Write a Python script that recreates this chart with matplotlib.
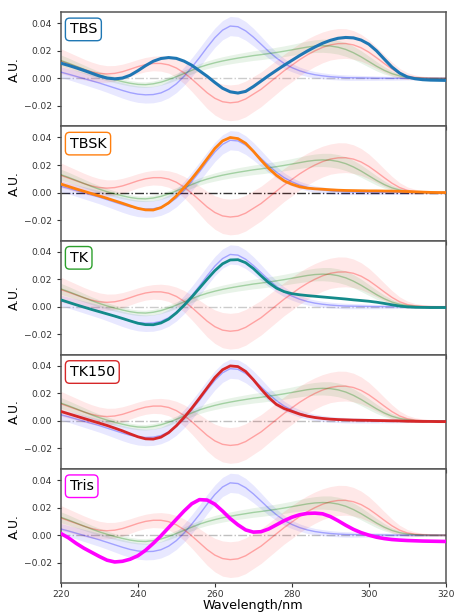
import numpy as np
import matplotlib
matplotlib.use("Agg")
import matplotlib.pyplot as plt

wavelength = list(range(220, 321, 2))

# background group means and band half-widths
bg_blue = [0.0045, 0.0030, 0.0014, -0.0002, -0.0018, -0.0034, -0.0052, -0.0070, -0.0088, -0.0104,
           -0.0115, -0.0120, -0.0118, -0.0106, -0.0080, -0.0040, 0.0015, 0.0080, 0.0150, 0.0225,
           0.0295, 0.0350, 0.0380, 0.0375, 0.0345, 0.0300, 0.0248, 0.0195, 0.0148, 0.0108,
           0.0078, 0.0055, 0.0038, 0.0026, 0.0018, 0.0012, 0.0008, 0.0005, 0.0004, 0.0003,
           0.0002, 0.0001, 0.0001, 0.0, 0.0, 0.0, 0.0, 0.0, 0.0, 0.0, 0.0]
bg_blue_err = [0.004, 0.004, 0.0042, 0.0044, 0.0046, 0.0048, 0.005, 0.0053, 0.0056, 0.0058,
               0.006, 0.006, 0.006, 0.006, 0.0062, 0.0064, 0.0066, 0.0068, 0.007, 0.007,
               0.007, 0.007, 0.007, 0.007, 0.0068, 0.0064, 0.0058, 0.005, 0.0042, 0.0036,
               0.003, 0.0027, 0.0025, 0.0023, 0.0022, 0.0021, 0.002, 0.002, 0.0019, 0.0018,
               0.0017, 0.0016, 0.0015, 0.0014, 0.0013, 0.0012, 0.0011, 0.001, 0.001, 0.001, 0.001]

bg_red = [0.0125, 0.0105, 0.0085, 0.0065, 0.0048, 0.0036, 0.0032, 0.0036, 0.0048, 0.0066,
          0.0085, 0.0100, 0.0108, 0.0108, 0.0098, 0.0075, 0.0040, -0.0005, -0.0055, -0.0105,
          -0.0145, -0.0170, -0.0178, -0.0172, -0.0150, -0.0115, -0.0080, -0.0035, 0.0010, 0.0055,
          0.0095, 0.0135, 0.0170, 0.0200, 0.0225, 0.0243, 0.0252, 0.0253, 0.0243, 0.0222,
          0.0190, 0.0150, 0.0108, 0.0068, 0.0036, 0.0016, 0.0007, 0.0003, 0.0001, 0.0, 0.0]
bg_red_err = [0.009, 0.0085, 0.008, 0.0075, 0.007, 0.0065, 0.006, 0.0057, 0.0055, 0.0053,
              0.0052, 0.0052, 0.0053, 0.0056, 0.006, 0.0068, 0.0078, 0.009, 0.0102, 0.0114,
              0.0122, 0.0128, 0.013, 0.013, 0.013, 0.0128, 0.0126, 0.0124, 0.0122, 0.012,
              0.012, 0.0118, 0.0116, 0.0114, 0.0112, 0.011, 0.011, 0.0108, 0.0104, 0.0098,
              0.009, 0.0078, 0.0064, 0.005, 0.0036, 0.0025, 0.0017, 0.0012, 0.001, 0.001, 0.001]

bg_green = [0.0130, 0.0110, 0.0088, 0.0066, 0.0044, 0.0024, 0.0006, -0.0010, -0.0024, -0.0036,
            -0.0044, -0.0046, -0.0040, -0.0028, -0.0010, 0.0012, 0.0035, 0.0058, 0.0080, 0.0098,
            0.0113, 0.0126, 0.0137, 0.0147, 0.0156, 0.0165, 0.0172, 0.0180, 0.0188, 0.0197,
            0.0207, 0.0217, 0.0227, 0.0234, 0.0237, 0.0235, 0.0226, 0.0210, 0.0186, 0.0156,
            0.0122, 0.0088, 0.0058, 0.0034, 0.0018, 0.0008, 0.0003, 0.0001, 0.0, 0.0, 0.0]
bg_green_err = [0.004, 0.0037, 0.0034, 0.0031, 0.0028, 0.0026, 0.0024, 0.0022, 0.0021, 0.002,
                0.002, 0.002, 0.0021, 0.0022, 0.0023, 0.0024, 0.0025, 0.0026, 0.0027, 0.0028,
                0.003, 0.0031, 0.0032, 0.0033, 0.0034, 0.0035, 0.0036, 0.0037, 0.0038, 0.0039,
                0.004, 0.0042, 0.0044, 0.0046, 0.0048, 0.005, 0.005, 0.005, 0.0048, 0.0045,
                0.004, 0.0034, 0.0027, 0.002, 0.0014, 0.001, 0.0008, 0.0006, 0.0005, 0.0005, 0.0005]

# highlighted samples
tbs = [0.0110, 0.0094, 0.0076, 0.0057, 0.0037, 0.0017, 0.0002, -0.0004, 0.0002, 0.0022,
       0.0055, 0.0092, 0.0124, 0.0144, 0.0151, 0.0145, 0.0125, 0.0095, 0.0055, 0.0015,
       -0.0030, -0.0072, -0.0098, -0.0107, -0.0095, -0.0060, -0.0020, 0.0020, 0.0058, 0.0095,
       0.0130, 0.0165, 0.0198, 0.0228, 0.0255, 0.0276, 0.0291, 0.0297, 0.0294, 0.0278,
       0.0248, 0.0200, 0.0140, 0.0082, 0.0038, 0.0010, -0.0003, -0.0010, -0.0013, -0.0014, -0.0015]
tbsk = [0.0062, 0.0044, 0.0026, 0.0009, -0.0008, -0.0025, -0.0042, -0.0060, -0.0078, -0.0097,
        -0.0115, -0.0126, -0.0127, -0.0110, -0.0075, -0.0025, 0.0035, 0.0100, 0.0170, 0.0245,
        0.0320, 0.0375, 0.0400, 0.0392, 0.0358, 0.0300, 0.0235, 0.0175, 0.0125, 0.0085,
        0.0060, 0.0042, 0.0032, 0.0027, 0.0024, 0.0020, 0.0017, 0.0015, 0.0014, 0.0013,
        0.0012, 0.0012, 0.0011, 0.0010, 0.0009, 0.0007, 0.0005, 0.0003, 0.0001, 0.0, 0.0]
tk = [0.0050, 0.0032, 0.0014, -0.0003, -0.0020, -0.0036, -0.0052, -0.0068, -0.0085, -0.0103,
      -0.0120, -0.0130, -0.0131, -0.0118, -0.0090, -0.0045, 0.0010, 0.0070, 0.0135, 0.0200,
      0.0262, 0.0312, 0.0340, 0.0342, 0.0320, 0.0278, 0.0225, 0.0175, 0.0135, 0.0110,
      0.0095, 0.0087, 0.0081, 0.0076, 0.0071, 0.0066, 0.0061, 0.0056, 0.0050, 0.0045,
      0.0040, 0.0033, 0.0024, 0.0014, 0.0005, -0.0001, -0.0004, -0.0005, -0.0006, -0.0006, -0.0006]
tk150 = [0.0069, 0.0052, 0.0035, 0.0018, 0.0001, -0.0016, -0.0033, -0.0052, -0.0072, -0.0094,
         -0.0115, -0.0130, -0.0132, -0.0118, -0.0085, -0.0035, 0.0025, 0.0092, 0.0165, 0.0240,
         0.0315, 0.0372, 0.0400, 0.0395, 0.0360, 0.0300, 0.0232, 0.0170, 0.0120, 0.0090,
         0.0070, 0.0050, 0.0035, 0.0025, 0.0018, 0.0013, 0.0010, 0.0008, 0.0006, 0.0005,
         0.0004, 0.0003, 0.0002, 0.0001, 0.0, -0.0002, -0.0003, -0.0004, -0.0004, -0.0005, -0.0005]
tris = [0.0012, -0.0020, -0.0060, -0.0095, -0.0125, -0.0155, -0.0182, -0.0195, -0.0190, -0.0175,
        -0.0150, -0.0110, -0.0060, -0.0005, 0.0055, 0.0115, 0.0175, 0.0228, 0.0258, 0.0255,
        0.0225, 0.0175, 0.0120, 0.0075, 0.0038, 0.0022, 0.0025, 0.0045, 0.0075, 0.0105,
        0.0130, 0.0148, 0.0158, 0.0160, 0.0155, 0.0135, 0.0105, 0.0072, 0.0042, 0.0018,
        0.0000, -0.0015, -0.0025, -0.0032, -0.0036, -0.0039, -0.0041, -0.0043, -0.0044, -0.0045, -0.0046]

names = ["TBS", "TBSK", "TK", "TK150", "Tris"]
series = [tbs, tbsk, tk, tk150, tris]
line_colors = ["#1f77b4", "#ff7f0e", "#138a8a", "#d62728", "#ff00ff"]
box_colors = ["#1f77b4", "#ff7f0e", "#2ca02c", "#d62728", "#ff00ff"]
line_widths = [2.2, 2.0, 2.0, 2.0, 2.6]
zero_alpha = [0.2, 0.8, 0.2, 0.25, 0.25]

x = np.array(wavelength)
fig, axes = plt.subplots(5, 1, figsize=(4.54, 6.14), dpi=100, sharex=True)
fig.subplots_adjust(left=0.134, right=0.982, top=0.980, bottom=0.050, hspace=0)

bgs = [(bg_blue, bg_blue_err, "b"), (bg_red, bg_red_err, "r"), (bg_green, bg_green_err, "g")]

for i, ax in enumerate(axes):
    ax.axhline(0, color="k", ls="-.", lw=1.0, alpha=zero_alpha[i], zorder=1)
    for m, e, c in bgs:
        m = np.array(m); e = np.array(e)
        ax.fill_between(x, m - e, m + e, color=c, alpha=0.09, lw=0, zorder=2)
        ax.plot(x, m, color=c, alpha=0.3, lw=1.0, zorder=3)
    ax.plot(x, series[i], color=line_colors[i], lw=line_widths[i], zorder=5)
    ax.text(0.023, 0.85, names[i], transform=ax.transAxes, fontsize=10.3,
            ha="left", va="center", zorder=6,
            bbox=dict(boxstyle="round,pad=0.3", fc="white", ec=box_colors[i], lw=1.0))
    ax.set_xlim(220, 320)
    ax.set_ylim(-0.035, 0.048)
    ax.set_yticks([-0.02, 0.0, 0.02, 0.04])
    ax.set_ylabel("A.U.", fontsize=8.8, labelpad=2)
    ax.tick_params(labelsize=6.6, colors="#333333", width=0.8, length=3)
    for s in ax.spines.values():
        s.set_color("#555555")
        s.set_linewidth(1.1)

axes[-1].set_xticks([220, 240, 260, 280, 300, 320])
axes[-1].tick_params(axis="x", pad=2)
axes[-1].set_xlabel("Wavelength/nm", fontsize=9.2, labelpad=0)

fig.savefig("out.png", dpi=100)
